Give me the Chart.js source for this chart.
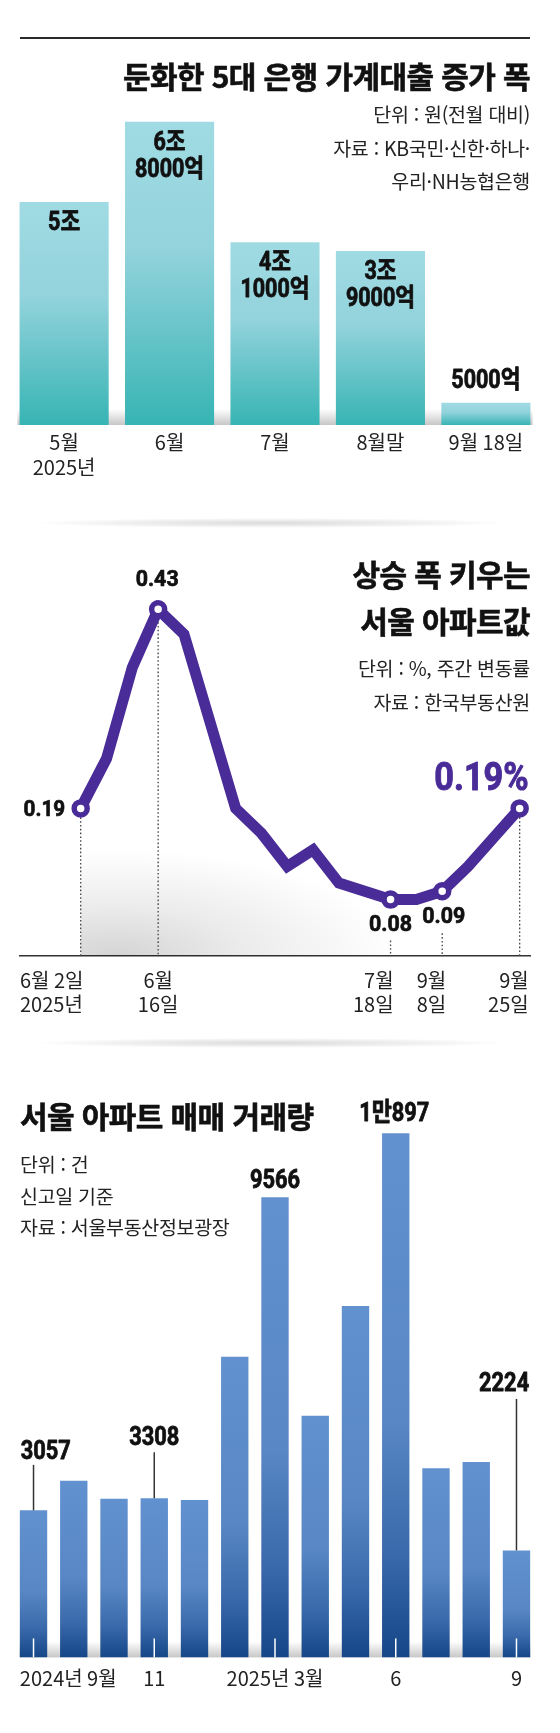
<!DOCTYPE html>
<html lang="ko">
<head>
<meta charset="utf-8">
<script src="https://cdn.jsdelivr.net/npm/chart.js@4.4.1/dist/chart.umd.min.js"></script>
<style>
html,body{margin:0;padding:0;background:#fff;}
body{width:560px;height:1733px;position:relative;overflow:hidden;font-family:"Noto Sans CJK KR","Noto Sans",sans-serif;color:#1a1a1a;}
canvas{position:absolute;left:0;z-index:1;}
.t{position:absolute;white-space:nowrap;z-index:2;}
.title{font-weight:700;font-size:30px;letter-spacing:-0.6px;color:#111;-webkit-text-stroke:0.6px #111;}
.note{font-weight:400;font-size:19.5px;color:#222;letter-spacing:-0.3px;}
.r{text-align:right;right:30px;}
.l{left:20px;}
.sep{position:absolute;height:10px;z-index:0;background:radial-gradient(ellipse at center, rgba(0,0,0,0.14) 0%, rgba(0,0,0,0.06) 45%, rgba(0,0,0,0) 70%);}
</style>
</head>
<body>
<div style="position:absolute;left:20px;top:37px;width:510px;height:1.6px;background:#2a2a2a;"></div>
<div class="t title r" style="top:55px;line-height:40px;">둔화한 5대 은행 가계대출 증가 폭</div>
<div class="t note r" style="top:97px;line-height:33.5px;">단위 : 원(전월 대비)<br>자료 : KB국민·신한·하나·<br>우리·NH농협은행</div>

<div class="sep" style="left:30px;width:480px;top:518px;"></div>
<div class="t title r" style="top:550px;line-height:47px;">상승 폭 키우는<br>서울 아파트값</div>
<div class="t note r" style="top:651px;line-height:34px;">단위 : %, 주간 변동률<br>자료 : 한국부동산원</div>

<div class="sep" style="left:30px;width:480px;top:1038px;"></div>
<div class="t title l" style="top:1095px;line-height:40px;">서울 아파트 매매 거래량</div>
<div class="t note l" style="top:1148px;line-height:31.5px;">단위 : 건<br>신고일 기준<br>자료 : 서울부동산정보광장</div>

<canvas id="c1" width="560" height="480" style="top:0px;"></canvas>
<canvas id="c2" width="560" height="560" style="top:480px;"></canvas>
<canvas id="c3" width="560" height="693" style="top:1040px;"></canvas>

<script>
// ---------- DATA ----------
// Chart 1: 5대 은행 가계대출 증가 폭 (억원)
const loanCats = [['5월', '2025년'], ['6월'], ['7월'], ['8월말'], ['9월 18일']];
const loanValues = [50000, 68000, 41000, 39000, 5000];
const loanLabels = [['5조'], ['6조', '8000억'], ['4조', '1000억'], ['3조', '9000억'], ['5000억']];

// Chart 2: 서울 아파트값 주간 변동률 (%)
const priceDates = [['6월 2일', '2025년'], null, null, ['6월', '16일'], null, null, null, null, null,
  null, null, null, ['7월', '18일'], null, ['9월', '8일'], null, null, ['9월', '25일']];
const priceValues = [0.19, 0.25, 0.36, 0.43, 0.40, null, 0.19, 0.16, 0.12, 0.14, 0.10, null,
  0.08, 0.08, 0.09, 0.12, 0.155, 0.19];
const priceMarked = [0, 3, 12, 14, 17];

// Chart 3: 서울 아파트 매매 거래량 (건)
const dealMonths = ['2024-09', '2024-10', '2024-11', '2024-12', '2025-01', '2025-02', '2025-03',
  '2025-04', '2025-05', '2025-06', '2025-07', '2025-08', '2025-09'];
const dealValues = [3057, 3674, 3299, 3308, 3272, 6252, 9566, 5025, 7306, 10897, 3931, 4062, 2224];
const dealTickLabels = ['2024년 9월', '', '', '11', '', '', '2025년 3월', '', '', '6', '', '', '9'];
const dealMarked = [0, 3, 6, 9, 12];

// ---------- HELPERS ----------
const KFONT = '"Noto Sans CJK KR", "Noto Sans", sans-serif';
const NFONT = 'Roboto, "Noto Sans CJK KR", sans-serif';
const PURPLE = '#4a2c98';

function drawText(ctx, text, x, y, align, font, color, sx, stroke) {
  ctx.save();
  ctx.font = font;
  ctx.fillStyle = color;
  ctx.textBaseline = 'middle';
  ctx.textAlign = align;
  ctx.translate(x, y);
  ctx.scale(sx || 1, 1);
  ctx.fillText(text, 0, 0);
  if (stroke) {
    ctx.strokeStyle = color;
    ctx.lineWidth = stroke;
    ctx.lineJoin = 'round';
    ctx.strokeText(text, 0, 0);
  }
  ctx.restore();
}
function baseShadow(chart) {
  const {ctx, chartArea} = chart;
  const b = chartArea.bottom;
  ctx.save();
  const g = ctx.createLinearGradient(0, b - 16, 0, b);
  g.addColorStop(0, 'rgba(0,0,0,0)');
  g.addColorStop(1, 'rgba(0,0,0,0.22)');
  ctx.fillStyle = g;
  ctx.fillRect(chartArea.left + 6, b - 16, chartArea.right - chartArea.left - 12, 16);
  ctx.restore();
}
function barGradient(stops) {
  return (c) => {
    const chart = c.chart;
    const ys = chart.scales && chart.scales.y;
    if (!ys || !chart.chartArea) return stops[0][1];
    const v = c.raw;
    const top = ys.getPixelForValue(v), bot = ys.getPixelForValue(0);
    if (!isFinite(top) || !isFinite(bot) || top === bot) return stops[0][1];
    const g = chart.ctx.createLinearGradient(0, top, 0, bot);
    stops.forEach(s => g.addColorStop(s[0], s[1]));
    return g;
  };
}
Chart.defaults.animation = false;
Chart.defaults.responsive = false;
Chart.defaults.events = [];
Chart.defaults.plugins.legend.display = false;
Chart.defaults.plugins.tooltip.enabled = false;

// ---------- CHART 1 ----------
new Chart(document.getElementById('c1'), {
  type: 'bar',
  data: {
    labels: loanCats,
    datasets: [{
      data: loanValues,
      backgroundColor: barGradient([[0, '#a0dbe3'], [0.42, '#93d3dc'], [1, '#37b4b4']]),
      borderWidth: 0,
      barPercentage: 0.845,
      categoryPercentage: 1
    }]
  },
  options: {
    layout: {padding: {left: 11.4, right: 21.4, top: 23.6, bottom: 0}},
    scales: {
      x: {
        grid: {display: false, drawTicks: false},
        border: {display: false},
        ticks: {color: '#222', padding: 5, font: {family: KFONT, size: 20, lineHeight: 1.25}},
        afterFit(s) { s.height = 55; }
      },
      y: {display: false, min: 0, max: 90000}
    }
  },
  plugins: [{
    id: 'loanDeco',
    beforeDatasetsDraw(chart) { baseShadow(chart); },
    afterDatasetsDraw(chart) {
      const ctx = chart.ctx;
      chart.getDatasetMeta(0).data.forEach((bar, i) => {
        const lines = loanLabels[i];
        const h = bar.base - bar.y;
        const y0 = h > 60 ? bar.y + 22 : bar.y - 21 - (lines.length - 1) * 27;
        lines.forEach((ln, k) => drawText(ctx, ln, bar.x, y0 + k * 27, 'center', 'bold 25px ' + NFONT, '#111', 0.86, 0.8));
      });
    }
  }]
});

// ---------- CHART 2 ----------
new Chart(document.getElementById('c2'), {
  type: 'line',
  data: {
    datasets: [{
      data: priceValues.map((v, i) => ({x: i, y: v})),
      borderColor: PURPLE,
      borderWidth: 11,
      spanGaps: true,
      tension: 0,
      clip: false,
      pointRadius: priceValues.map((v, i) => priceMarked.includes(i) ? 6.5 : 0),
      pointBorderWidth: 5.5,
      pointBackgroundColor: '#fff',
      pointBorderColor: PURPLE
    }]
  },
  options: {
    layout: {padding: {left: 20, right: 30, top: 79.6, bottom: 0}},
    scales: {
      x: {
        type: 'linear', min: -2.35, max: 17.4,
        grid: {display: false, drawTicks: false},
        border: {display: true, color: '#333', width: 1.6},
        ticks: {display: false},
        afterFit(s) { s.height = 84; }
      },
      y: {display: false, min: 0.012, max: 0.49}
    }
  },
  plugins: [{
    id: 'priceDeco',
    beforeDatasetsDraw(chart) {
      const {ctx, chartArea} = chart;
      const pts = chart.getDatasetMeta(0).data;
      const yb = chartArea.bottom;
      const p0 = pts[0];
      // soft floor shadow
      ctx.save();
      ctx.beginPath();
      ctx.rect(p0.x, chartArea.top, chartArea.right - p0.x, yb - chartArea.top);
      ctx.clip();
      ctx.translate(p0.x + 35, yb);
      ctx.scale(1, 0.38);
      const g = ctx.createRadialGradient(0, 0, 0, 0, 0, 280);
      g.addColorStop(0, 'rgba(0,0,0,0.17)');
      g.addColorStop(0.45, 'rgba(0,0,0,0.08)');
      g.addColorStop(1, 'rgba(0,0,0,0)');
      ctx.fillStyle = g;
      ctx.fillRect(-320, -320, 640, 320);
      ctx.restore();
      // dotted guides
      const startOff = {0: 9, 3: 9, 12: 41, 14: 42, 17: 9};
      ctx.save();
      ctx.strokeStyle = '#444';
      ctx.lineWidth = 1.3;
      ctx.setLineDash([1.6, 2.2]);
      priceMarked.forEach(i => {
        const p = pts[i];
        ctx.beginPath();
        ctx.moveTo(p.x, p.y + startOff[i]);
        ctx.lineTo(p.x, yb);
        ctx.stroke();
      });
      ctx.restore();
    },
    afterDatasetsDraw(chart) {
      const {ctx, chartArea} = chart;
      const pts = chart.getDatasetMeta(0).data;
      const f = 'bold 22.5px ' + NFONT;
      const p = i => pts[i];
      drawText(ctx, priceValues[0].toFixed(2), p(0).x - 15.5, p(0).y + 2, 'right', f, '#111', 0.92, 0.7);
      drawText(ctx, priceValues[3].toFixed(2), p(3).x - 1, p(3).y - 28.5, 'center', f, '#111', 0.95, 0.7);
      drawText(ctx, priceValues[12].toFixed(2), p(12).x, p(12).y + 26, 'center', f, '#111', 0.95, 0.7);
      drawText(ctx, priceValues[14].toFixed(2), p(14).x + 1.5, p(14).y + 26, 'center', f, '#111', 0.95, 0.7);
      drawText(ctx, priceValues[17].toFixed(2) + '%', p(17).x + 9, p(17).y - 28, 'right', 'bold 39px ' + NFONT, PURPLE, 0.88, 1);
      // date labels
      const xs = chart.scales.x;
      const lf = '400 20px ' + KFONT;
      priceDates.forEach((lines, i) => {
        if (!lines) return;
        const px = xs.getPixelForValue(i);
        let align = 'right', x = px + 3;
        if (i === 0) { align = 'left'; x = chartArea.left; }
        else if (i === 3) { align = 'center'; x = px; }
        else if (i === 14) { x = px + 4; }
        else if (i === 17) { x = px + 9; }
        lines.forEach((ln, k) => drawText(ctx, ln, x, chartArea.bottom + 24 + k * 24, align, lf, '#222', 1));
      });
    }
  }]
});

// ---------- CHART 3 ----------
new Chart(document.getElementById('c3'), {
  type: 'bar',
  data: {
    labels: dealMonths,
    datasets: [{
      data: dealValues,
      backgroundColor: barGradient([[0, '#6291cf'], [0.55, '#5987c5'], [0.8, '#3a6aab'], [1, '#154687']]),
      borderWidth: 0,
      barPercentage: 0.68,
      categoryPercentage: 1
    }]
  },
  options: {
    layout: {padding: {left: 13.4, right: 23.4, top: 40.2, bottom: 0}},
    scales: {
      x: {
        grid: {display: false, drawTicks: false},
        border: {display: false},
        ticks: {display: false},
        afterFit(s) { s.height = 75.6; }
      },
      y: {display: false, min: 0, max: 12000}
    }
  },
  plugins: [{
    id: 'dealDeco',
    beforeDatasetsDraw(chart) { baseShadow(chart); },
    afterDatasetsDraw(chart) {
      const {ctx, chartArea} = chart;
      const bars = chart.getDatasetMeta(0).data;
      const fmt = v => v >= 10000 ? Math.floor(v / 10000) + '만' + (v % 10000) : String(v);
      const f = 'bold 26px ' + NFONT;
      // white ticks inside labelled bars
      ctx.save();
      ctx.strokeStyle = '#fff';
      ctx.lineWidth = 1.5;
      dealMarked.forEach(i => {
        const b = bars[i];
        ctx.beginPath(); ctx.moveTo(b.x, b.base - 19); ctx.lineTo(b.x, b.base); ctx.stroke();
      });
      ctx.restore();
      // value labels with leaders
      const spec = {
        0: {dy: -57.5, align: 'left', dx: 'left', leader: 12},
        3: {dy: -60, align: 'center', dx: 0, leader: 14},
        6: {dy: -15.6, align: 'center', dx: 0, leader: 0},
        9: {dy: -18.3, align: 'center', dx: -1.5, leader: 0},
        12: {dy: -165.5, align: 'right', dx: 'right', leader: 14}
      };
      dealMarked.forEach(i => {
        const b = bars[i], s = spec[i];
        let x = b.x + (typeof s.dx === 'number' ? s.dx : 0);
        if (s.dx === 'left') x = b.x - b.width / 2 + 0.8;
        if (s.dx === 'right') x = b.x + b.width / 2 - 1;
        const y = b.y + s.dy;
        if (s.leader) {
          ctx.save();
          ctx.strokeStyle = '#333'; ctx.lineWidth = 1.5;
          ctx.beginPath(); ctx.moveTo(b.x, y + s.leader); ctx.lineTo(b.x, b.y); ctx.stroke();
          ctx.restore();
        }
        drawText(ctx, fmt(dealValues[i]), x, y, s.align, f, '#111', 0.84, 0.8);
      });
      // x labels
      const lf = '400 20px ' + KFONT;
      dealTickLabels.forEach((t, i) => {
        if (!t) return;
        const b = bars[i];
        if (i === 0) drawText(ctx, t, b.x - b.width / 2, chartArea.bottom + 21, 'left', lf, '#222', 1);
        else drawText(ctx, t, b.x, chartArea.bottom + 21, 'center', lf, '#222', 1);
      });
    }
  }]
});
</script>
</body>
</html>
